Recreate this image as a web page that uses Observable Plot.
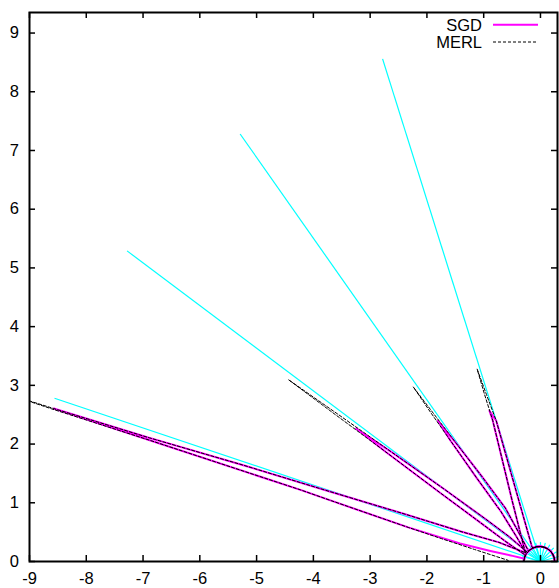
<!DOCTYPE html>
<html>
<head>
<meta charset="utf-8">
<script src="https://cdn.jsdelivr.net/npm/d3@7"></script>
<script src="https://cdn.jsdelivr.net/npm/@observablehq/plot@0.6"></script>
<style>
html, body { margin: 0; padding: 0; background: #fff; }
#chart { position: relative; width: 559px; height: 588px; }
</style>
</head>
<body>
<div id="chart"></div>
<script>
// ---- tick labels ----
const xTicks = [-9, -8, -7, -6, -5, -4, -3, -2, -1, 0];
const yTicks = [0, 1, 2, 3, 4, 5, 6, 7, 8, 9];
const seriesNames = ["SGD", "MERL"];

// ---- cyan direction rays (angle from normal in degrees, length) ----
const rayPhi = [18, 36, 54, 72];
const rayR = [9, 9, 9, 9];
const fanPhi = [-90, -75, -60, -45, -30, -15, 0, 15, 30, 45, 60, 75, 90];
const fanR = [0.33, 0.33, 0.33, 0.33, 0.33, 0.33, 0.33, 0.33, 0.33, 0.33, 0.33, 0.33, 0.33];

// ---- diffuse arc (angle, radius) ----
const arcPhi = [-90, -75, -60, -45, -30, -15, 0, 15, 30, 45, 60, 75, 90];
const arcR = [0.25, 0.25, 0.25, 0.25, 0.25, 0.252, 0.255, 0.26, 0.265, 0.272, 0.28, 0.288, 0.295];

// ---- lobes, SGD (angle from normal in degrees, radius) ----
const sgdA_phi = [31, 18.0, 19.3, 19.28, 25.7, 61.8];
const sgdA_r   = [0.29, 2.52, 2.72, 2.55, 1.15, 0.30];
const sgdB_phi = [50, 40, 34.2, 35.5, 36.4, 37.0, 37.6, 38.3, 39.3, 45, 62];
const sgdB_r   = [0.275, 0.5, 1.1, 1.8, 2.5, 3.0, 2.6, 1.8, 1.1, 0.6, 0.28];
const sgdC_phi = [56, 52.5, 53.2, 54.0, 54.6, 55.1, 55.6, 56.5, 57.8, 61, 68];
const sgdC_r   = [0.28, 0.7, 1.2, 2.1, 3.2, 3.96, 3.3, 2.1, 1.3, 0.7, 0.285];
const sgdD_phi = [60, 66, 70, 71.3, 72.2, 72.6, 73.0, 73.1, 73.3, 73.9, 74.3, 76, 77.8, 78.5, 79, 80];
const sgdD_r   = [0.28, 0.8, 1.49, 2.5, 3.9, 5.5, 7.2, 8.96, 7.2, 4.4, 3.83, 2.4, 1.45, 0.9, 0.5, 0.3];

// ---- lobes, MERL ----
const merlA_phi = [31, 18.0, 18.5, 18.8, 19.1, 19.28, 25.7, 61.8];
const merlA_r   = [0.29, 2.52, 3.0, 3.46, 3.0, 2.55, 1.15, 0.30];
const merlB_phi = [50, 40, 34.2, 35.5, 36.4, 36.8, 37.0, 37.3, 37.6, 38.3, 39.3, 45, 62];
const merlB_r   = [0.275, 0.5, 1.1, 1.8, 2.5, 3.2, 3.72, 3.2, 2.6, 1.8, 1.1, 0.6, 0.28];
const merlC_phi = [56, 52.5, 53.2, 54.0, 54.6, 54.9, 55.1, 55.3, 55.6, 56.5, 57.8, 61, 68];
const merlC_r   = [0.28, 0.7, 1.2, 2.1, 3.2, 4.4, 5.41, 4.4, 3.3, 2.1, 1.3, 0.7, 0.285];
const merlD_phi = [60, 66, 70, 71.3, 72.2, 72.6, 73.0, 73.1, 73.1, 73.2, 73.3, 73.9, 74.3, 76, 77.4, 80, 88, 90];
const merlD_r   = [0.28, 0.8, 1.49, 2.5, 3.9, 5.5, 7.2, 8.96, 9.8, 9.0, 7.2, 4.4, 3.83, 2.4, 1.79, 1.18, 0.57, 0.56];

// ---- helpers: polar (angle from +y toward -x) to cartesian ----
const rad = d => d * Math.PI / 180;
const toXY = (phi, r) => ({x: -r * Math.sin(rad(phi)), y: r * Math.cos(rad(phi))});

function lobePath(phiArr, rArr, name) {
  const first = phiArr[0], last = phiArr[phiArr.length - 1];
  const pts = [];
  arcPhi.forEach((p, i) => { if (p < first) pts.push(toXY(p, arcR[i])); });
  phiArr.forEach((p, i) => pts.push(toXY(p, rArr[i])));
  arcPhi.forEach((p, i) => { if (p > last) pts.push(toXY(p, arcR[i])); });
  return pts.map(d => ({...d, lobe: name}));
}

const sgdLobes = [
  lobePath(sgdA_phi, sgdA_r, "A"), lobePath(sgdB_phi, sgdB_r, "B"),
  lobePath(sgdC_phi, sgdC_r, "C"), lobePath(sgdD_phi, sgdD_r, "D")
];
const merlLobes = [
  lobePath(merlA_phi, merlA_r, "A"), lobePath(merlB_phi, merlB_r, "B"),
  lobePath(merlC_phi, merlC_r, "C"), lobePath(merlD_phi, merlD_r, "D")
];

const toLink = (p, r) => { const e = toXY(p, r); return {x1: 0, y1: 0, x2: e.x, y2: e.y}; };
const rays = rayPhi.map((p, i) => toLink(p, rayR[i]));
const fan = fanPhi.map((p, i) => toLink(p, fanR[i]));

const W = 559, H = 588;
const mL = 29, mR = 2, mT = 12, mB = 27;
const frameW = W - mL - mR, frameH = H - mT - mB;
const TICK = 6;
const FONT = "'Liberation Sans', Arial, Helvetica, sans-serif";

const marks = [
  Plot.link(fan, {x1: "x1", y1: "y1", x2: "x2", y2: "y2", stroke: "#00ffff", strokeWidth: 1.2}),
  Plot.link(rays, {x1: "x1", y1: "y1", x2: "x2", y2: "y2", stroke: "#00ffff", strokeWidth: 1.2})
];
sgdLobes.forEach(p => marks.push(
  Plot.line(p, {x: "x", y: "y", stroke: "#ff00ff", strokeWidth: 2, clip: true, curve: "linear"})
));
merlLobes.forEach((p, i) => marks.push(
  Plot.line(p, {x: "x", y: "y", stroke: "#000000", strokeWidth: 1, strokeDasharray: "3,2",
                strokeDashoffset: i * 1.25, clip: true, curve: "linear"})
));
marks.push(
  Plot.tickX(xTicks, {x: d => d, insetTop: frameH - TICK, stroke: "black", strokeWidth: 1.5}),
  Plot.tickX(xTicks, {x: d => d, insetBottom: frameH - TICK, stroke: "black", strokeWidth: 1.5}),
  Plot.tickY(yTicks, {y: d => d, insetRight: frameW - TICK, stroke: "black", strokeWidth: 1.5}),
  Plot.tickY(yTicks, {y: d => d, insetLeft: frameW - TICK, stroke: "black", strokeWidth: 1.5}),
  Plot.axisX(xTicks, {tickSize: 0, tickPadding: 11, tickFormat: d => String(d), fill: "black"}),
  Plot.axisY(yTicks, {tickSize: 0, tickPadding: 10.5, tickFormat: d => String(d), fill: "black"}),
  Plot.frame({stroke: "black", strokeWidth: 2})
);

const svg = Plot.plot({
  width: W,
  height: H,
  marginLeft: mL,
  marginRight: mR,
  marginTop: mT,
  marginBottom: mB,
  x: {domain: [-9, 0.3], label: null},
  y: {domain: [0, 9.35], label: null},
  style: {fontFamily: FONT, fontSize: "16.5px", color: "black", background: "white", overflow: "visible"},
  marks
});

// ---- legend (top right, inside frame) ----
const g = d3.select(svg).append("g").attr("font-family", FONT).attr("font-size", "16.5px");
const legendColors = ["#ff00ff", "#000000"];
const legendDash = [null, "3,2"];
const legendWidth = [2, 1];
seriesNames.forEach((name, i) => {
  const cy = 24.7 + i * 17.3;
  g.append("text").attr("x", 482).attr("y", cy).attr("dy", "0.36em")
    .attr("text-anchor", "end").attr("fill", "black").text(name);
  g.append("line").attr("x1", 493).attr("x2", 538).attr("y1", cy).attr("y2", cy)
    .attr("stroke", legendColors[i]).attr("stroke-width", legendWidth[i])
    .attr("stroke-dasharray", legendDash[i]);
});

document.getElementById("chart").appendChild(svg);
</script>
</body>
</html>
